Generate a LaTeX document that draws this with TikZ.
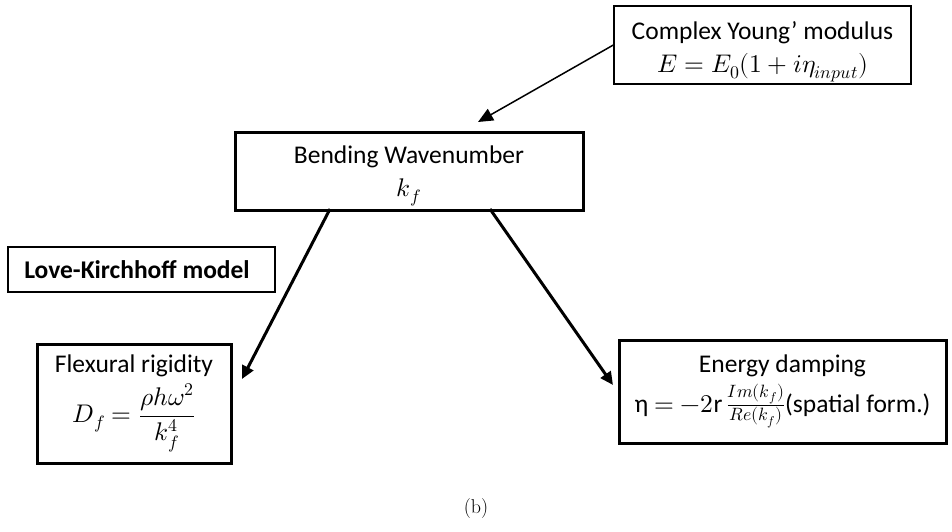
\documentclass[tikz,border=0pt]{standalone}
\usepackage{amsmath}
\usepackage{unicode-math}
\setmainfont{Carlito}
\setmathfont{Latin Modern Math}
\newfontfamily\capfont{Latin Modern Roman}
\usetikzlibrary{arrows.meta}
\begin{document}
\begin{tikzpicture}[x=1pt,y=-1pt,
  thinbox/.style={draw, line width=1.3pt, minimum width=#1, inner sep=0pt, align=center, font=\fontsize{25.5}{31}\selectfont},
  thickbox/.style={draw, line width=3pt, minimum width=#1, inner sep=0pt, align=center, font=\fontsize{25.5}{31}\selectfont},
  thinarrow/.style={line width=1.5pt, -{Triangle[length=15pt,width=13pt]}},
  thickarrow/.style={line width=3pt, -{Triangle[length=13pt,width=12pt]}}]
\useasboundingbox (0,0) rectangle (952,531);
\node[thinbox=297pt, minimum height=78pt] (young) at (762.5,45)
  {\rule{0pt}{31pt}Complex Young’ modulus\\[2pt] $E = E_0(1 + i\eta_{input})$};
\node[thickbox=348pt, minimum height=78pt] (bend) at (409,171)
  {\rule{0pt}{27pt}Bending Wavenumber\\[2pt] $k_f$};
\node[thinbox=267pt, minimum height=45pt, font=\fontsize{25.5}{29}\bfseries\selectfont] (love) at (141.5,269.5)
  {Love-Kirchhoff model\hspace*{9pt}};
\node[thickbox=194pt, minimum height=119pt] (flex) at (134,403.5)
  {Flexural rigidity\\[6pt] $D_f = \dfrac{\rho h\omega^2}{k_f^4}$};
\node[thickbox=327pt, minimum height=103pt] (energy) at (782.5,391.5)
  {Energy damping\\[6pt] η $= -2\mathrm{r}\,\frac{Im(k_f)}{Re(k_f)}$(spatial form.)};
\node[font=\capfont\fontsize{20}{22}\selectfont] (cap) at (476,508) {(b)};
\coordinate (tipA) at (478,122);
\coordinate (startB) at (330,209);
\coordinate (tipB) at (242,379);
\coordinate (startC) at (490,209);
\coordinate (tipC) at (613,385);
\draw[thinarrow] (young.west) -- (tipA);
\draw[thickarrow] (startB) -- (tipB);
\draw[thickarrow] (startC) -- (tipC);
\end{tikzpicture}
\end{document}
